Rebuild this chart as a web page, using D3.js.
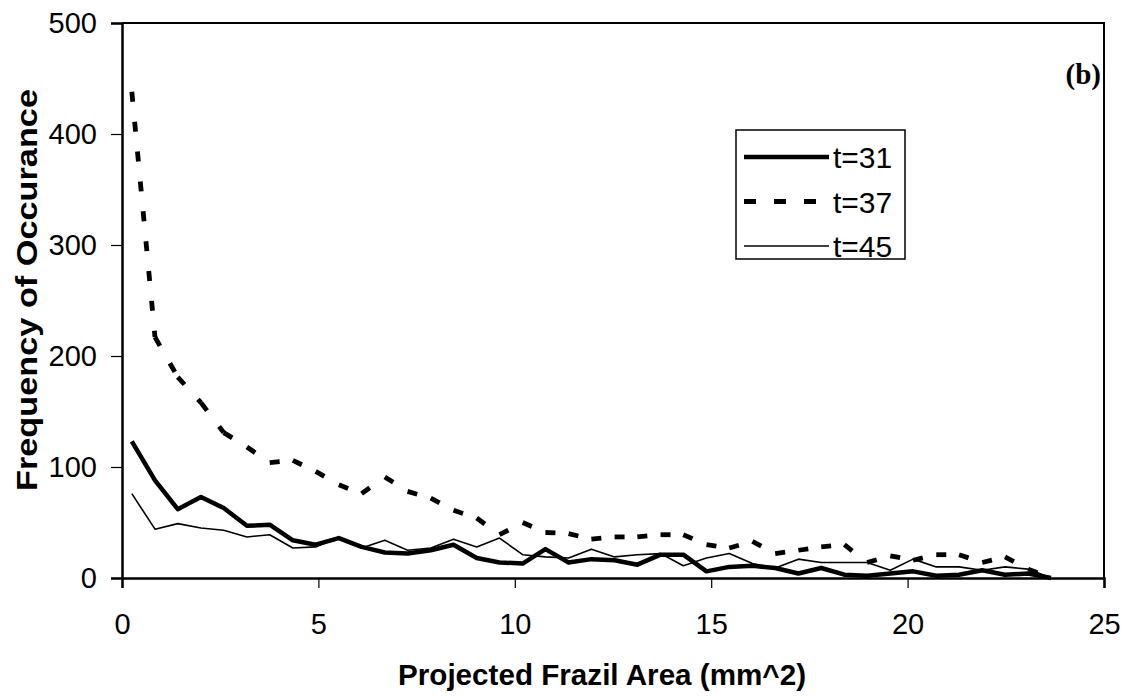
<!DOCTYPE html>
<html>
<head>
<meta charset="utf-8">
<script src="https://cdn.jsdelivr.net/npm/d3@7"></script>
<style>
    body { margin: 0; background: #fff; }
    svg { display: block; }
    .tick text { font-family: "Liberation Sans", Arial, sans-serif; font-size: 29px; fill: #000; }
</style>
</head>
<body>
<div id="chart"></div>
<script>
// projected frazil area bins (mm^2)
const area = [0.25, 0.84, 1.42, 2.01, 2.59, 3.18, 3.76, 4.35, 4.93, 5.52,
    6.10, 6.69, 7.27, 7.86, 8.44, 9.03, 9.61, 10.20, 10.78, 11.37,
    11.95, 12.54, 13.12, 13.71, 14.29, 14.88, 15.46, 16.05, 16.63, 17.22,
    17.80, 18.39, 18.97, 19.56, 20.14, 20.73, 21.31, 21.90, 22.48, 23.07, 23.65];

const t31 = [123, 88, 62, 73, 63, 47, 48, 34, 30, 36, 28, 23, 22, 25, 30, 18, 14, 13, 26, 14,
    17, 16, 12, 21, 21, 6, 10, 11, 9, 4, 9, 3, 2, 4, 6, 2, 3, 7, 3, 4, 0];
const t37 = [438, 217, 181, 158, 131, 118, 104, 106, 96, 84, 76, 91, 78, 72, 61, 54, 39, 50, 41, 40,
    35, 37, 37, 39, 39, 30, 27, 33, 22, 25, 28, 30, 14, 20, 16, 21, 21, 14, 19, 8, 0];
const t45 = [76, 44, 49, 45, 43, 37, 39, 27, 28, 37, 27, 34, 25, 27, 35, 28, 36, 21, 19, 18,
    26, 19, 21, 22, 11, 18, 22, 13, 9, 17, 14, 14, 14, 7, 17, 10, 10, 7, 10, 8, 0];

const xTicks = [0, 5, 10, 15, 20, 25];
const yTicks = [0, 100, 200, 300, 400, 500];

const series = [
    { name: "t=31", values: t31, width: 4.5, dash: null },
    { name: "t=37", values: t37, width: 4.8, dash: "10,20" },
    { name: "t=45", values: t45, width: 1.6, dash: null }
];

const W = 1128, H = 698;
const plot = { left: 122, right: 1104, top: 23, bottom: 578 };

const svg = d3.select("#chart")
    .append("svg")
    .attr("width", W)
    .attr("height", H);

const x = d3.scaleLinear().domain([0, 25]).range([plot.left, plot.right]);
const y = d3.scaleLinear().domain([0, 500]).range([plot.bottom, plot.top]);

// plot frame (top and right)
svg.append("path")
    .attr("d", `M${plot.left},${plot.top}H${plot.right}V${plot.bottom}`)
    .attr("fill", "none")
    .attr("stroke", "#000")
    .attr("stroke-width", 2);

// axes
const yAxis = svg.append("g")
    .attr("transform", `translate(${plot.left},0)`)
    .call(d3.axisLeft(y).tickValues(yTicks).tickSize(11).tickPadding(14));
const xAxis = svg.append("g")
    .attr("transform", `translate(0,${plot.bottom})`)
    .call(d3.axisBottom(x).tickValues(xTicks).tickSize(10).tickPadding(25));
[xAxis, yAxis].forEach(g => {
    g.select(".domain").attr("stroke-width", 2.5);
    g.selectAll(".tick line").attr("stroke-width", 1.2);
});

// lines
const line = d3.line().x(d => x(d[0])).y(d => y(d[1]));
series.forEach(s => {
    const pts = area.map((a, i) => [a, s.values[i]]);
    if (s.dash) {
        // excel restarts the dash pattern on every segment
        const segs = d3.pairs(pts);
        svg.append("g").selectAll("path")
            .data(segs)
            .join("path")
            .attr("d", line)
            .attr("fill", "none")
            .attr("stroke", "#000")
            .attr("stroke-width", s.width)
            .attr("stroke-dasharray", s.dash);
    } else {
        svg.append("path")
            .datum(pts)
            .attr("d", line)
            .attr("fill", "none")
            .attr("stroke", "#000")
            .attr("stroke-width", s.width)
            .attr("stroke-linejoin", "round");
    }
});

// legend
const legend = svg.append("g").attr("transform", "translate(736,130)");
legend.append("rect")
    .attr("width", 169)
    .attr("height", 129)
    .attr("fill", "#fff")
    .attr("stroke", "#000")
    .attr("stroke-width", 1.5);
series.forEach((s, i) => {
    const ly = 27 + i * 44.5;
    legend.append("line")
        .attr("x1", 8).attr("x2", 93)
        .attr("y1", ly).attr("y2", ly)
        .attr("stroke", "#000")
        .attr("stroke-width", s.width)
        .attr("stroke-dasharray", s.dash ? "12,18" : null);
    legend.append("text")
        .attr("x", 97)
        .attr("y", ly + 11)
        .attr("font-family", "Liberation Sans, Arial, sans-serif")
        .attr("font-size", 30)
        .text(s.name);
});

// panel label
svg.append("text")
    .attr("x", 1101)
    .attr("y", 84)
    .attr("text-anchor", "end")
    .attr("font-family", "Liberation Serif, Times New Roman, serif")
    .attr("font-weight", "bold")
    .attr("font-size", 29)
    .text("(b)");

// axis titles
svg.append("text")
    .attr("x", 602)
    .attr("y", 685)
    .attr("text-anchor", "middle")
    .attr("font-family", "Liberation Sans, Arial, sans-serif")
    .attr("font-weight", "bold")
    .attr("font-size", 30)
    .attr("textLength", 408)
    .attr("lengthAdjust", "spacingAndGlyphs")
    .text("Projected Frazil Area (mm^2)");

svg.append("text")
    .attr("transform", "translate(37,290) rotate(-90)")
    .attr("text-anchor", "middle")
    .attr("font-family", "Liberation Sans, Arial, sans-serif")
    .attr("font-weight", "bold")
    .attr("font-size", 30)
    .attr("textLength", 402)
    .attr("lengthAdjust", "spacingAndGlyphs")
    .text("Frequency of Occurance");
</script>
</body>
</html>
